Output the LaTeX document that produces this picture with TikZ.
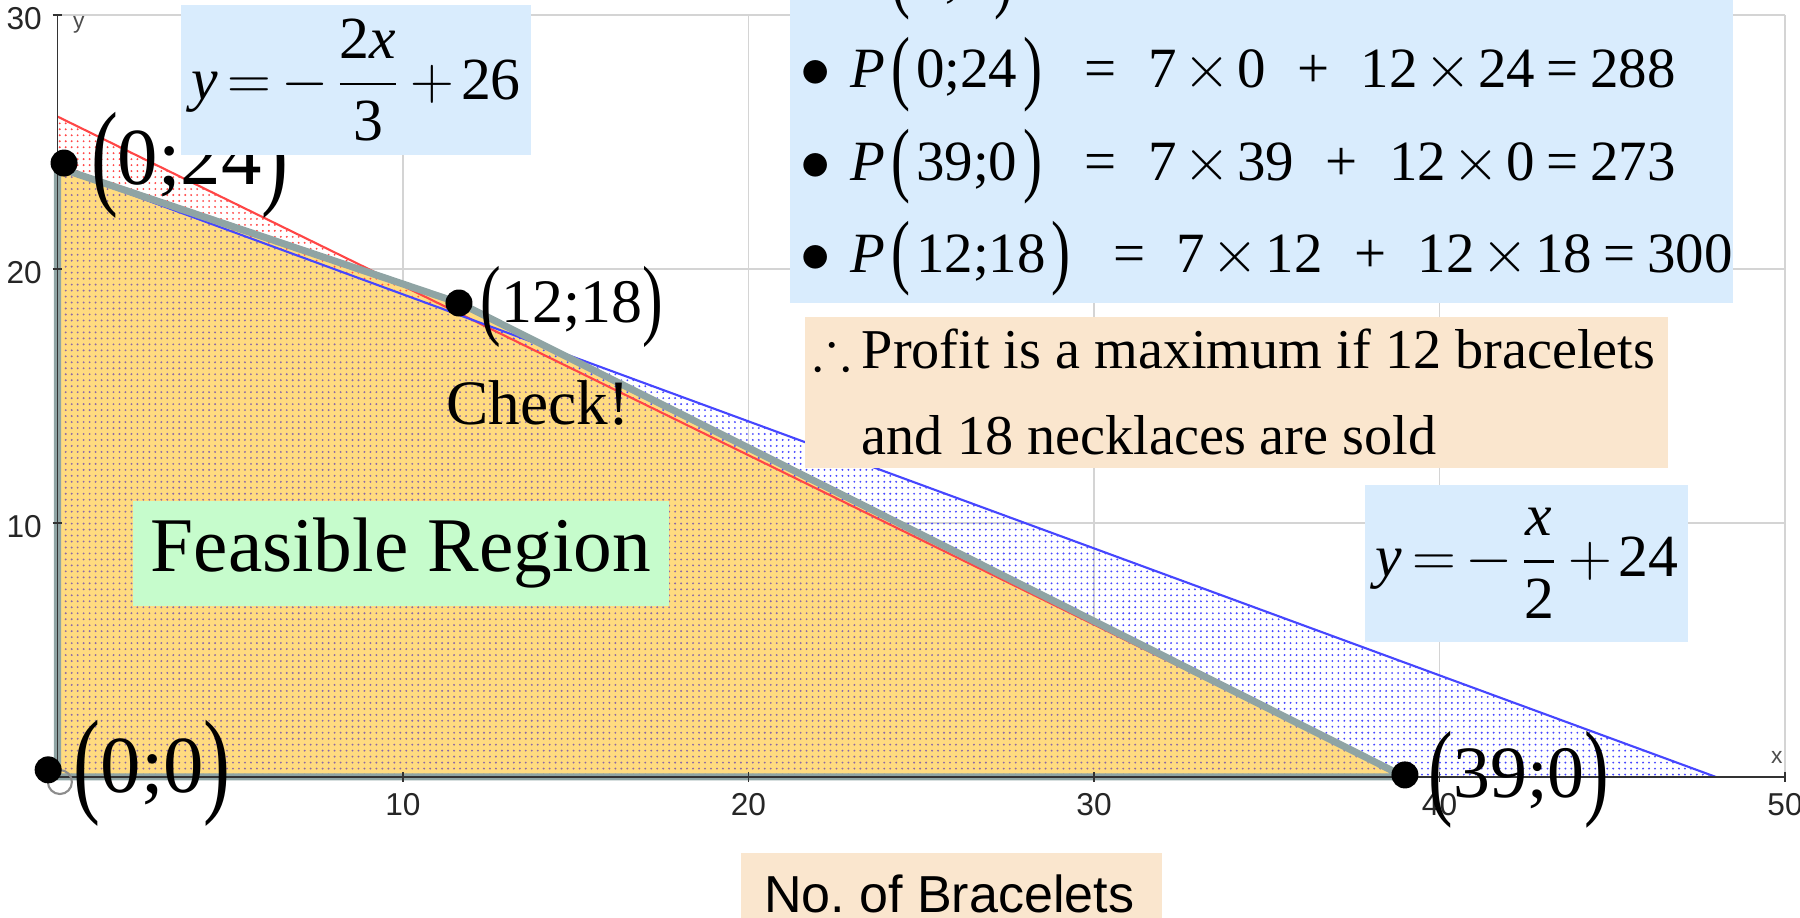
\documentclass[tikz,border=0pt]{standalone}
\usepackage{fontspec}
\setmainfont{Liberation Serif}
\setsansfont{Liberation Sans}
\usepackage{amsmath}
\usepackage{amssymb}
\usepackage{graphicx}
\usepackage{xcolor}
\usetikzlibrary{patterns.meta}

\definecolor{gridgray}{RGB}{212,212,212}
\definecolor{feasy}{RGB}{255,219,128}
\definecolor{edgegray}{RGB}{143,164,164}
\definecolor{redline}{RGB}{255,70,70}
\definecolor{blueline}{RGB}{70,70,255}
\definecolor{bothdot}{RGB}{140,105,165}
\definecolor{boxblue}{RGB}{217,236,253}
\definecolor{boxgreen}{RGB}{198,252,204}
\definecolor{boxpeach}{RGB}{250,230,206}

\newcommand\lpar{\raisebox{-0.11em}{\scalebox{1}[1.45]{(}}}
\newcommand\rpar{\raisebox{-0.11em}{\scalebox{1}[1.45]{)}}}
\newcommand\tms{\hspace{0.12em}$\times$\hspace{0.12em}}
\newcommand\eqs{\hspace{0.2em}=\hspace{0.2em}}
\newcommand\pline[3]{$\bullet$\hspace{0.35em}\textit{P}\hspace{0.1em}\lpar\hspace{0.1em}#1\hspace{0.1em}\rpar\hspace{0.75em}=\hspace{0.55em}#2\hspace{0.55em}+\hspace{0.55em}#3}
\newcommand\tteq{\mkern3mu{=}\mkern3mu{-}\mkern2mu}
\newcommand\ttplus{\mkern3mu{+}\mkern2mu}

\begin{document}
\frenchspacing
\begin{tikzpicture}[x=0.3455cm,y=0.254cm,
  ptdot/.style={circle,fill=black,inner sep=0pt,minimum size=0.27cm},
  bigtxt/.style={inner sep=0pt,anchor=base west},
  ticklbl/.style={font=\sffamily\fontsize{9}{10}\selectfont,text=black!85,inner sep=0pt},
  axlbl/.style={font=\sffamily\fontsize{6.5}{7}\selectfont,text=black!70,inner sep=0pt},
  eqbox/.style={fill=boxblue,inner sep=0pt,font=\fontsize{17}{20}\selectfont},
  dotfill/.style={pattern={Dots[distance=1.7pt,radius=0.3pt]},pattern color=#1}]
\useasboundingbox (-1.664,-5.551) rectangle (50.434,30.59);
% grid
\foreach \x in {10,20,...,50} \draw[gridgray,line width=0.5pt] (\x,0) -- (\x,30);
\foreach \y in {10,20,30} \draw[gridgray,line width=0.5pt] (0,\y) -- (50,\y);
% regions
\coordinate (O) at (0,0);
\coordinate (A) at (0,24);
\coordinate (B) at (11.65,18.65);
\coordinate (C) at (39,0);
\coordinate (R) at (0,26);
\coordinate (Q) at (48,0);
\coordinate (M) at (12,18);
\fill[feasy] (O) -- (A) -- (B) -- (C) -- cycle;
\fill[dotfill=bothdot] (O) -- (A) -- (M) -- (C) -- cycle;
\fill[dotfill=redline] (A) -- (R) -- (M) -- cycle;
\fill[dotfill=blueline] (M) -- (Q) -- (C) -- cycle;
\draw[redline,line width=0.6pt] (R) -- (C);
\draw[blueline,line width=0.6pt] (A) -- (Q);
\draw[edgegray,line width=2pt,line join=round] (O) -- (A) -- (B) -- (C) -- cycle;
% axes
\draw[black!80,line width=0.5pt] (0,0) -- (50,0);
\draw[black!80,line width=0.5pt] (0,0) -- (0,30);
\foreach \x in {10,20,...,50} {
  \draw[black!80,line width=0.5pt] (\x,0) ++(0,-1.4pt) -- ++(0,2.8pt);
  \node[ticklbl] (xt\x) at ([yshift=-0.28cm]\x,0) {\x};
}
\foreach \y in {10,20,30} {
  \draw[black!80,line width=0.5pt] (0,\y) ++(-1.4pt,0) -- ++(2.8pt,0);
  \node[ticklbl,anchor=east] (yt\y) at ([xshift=-0.15cm,yshift=-0.04cm]0,\y) {\y};
}
\node[axlbl] (ylab) at (0.62,29.6) {y};
\node[axlbl] (xlab) at (49.76,0.75) {x};
\draw[black!45,line width=0.6pt] (0.07,-0.2) circle[radius=0.12cm];
% corner points
\node[ptdot] (d24) at (0.19,24.17) {};
\node[ptdot] (d1218) at (11.62,18.66) {};
\node[ptdot] (d00) at (-0.27,0.28) {};
\node[ptdot] (d390) at (39.0,0.08) {};
\node[bigtxt,font=\fontsize{23}{27}\selectfont] (l24) at (0.95,23.31) {\lpar 0;24\rpar};
\node[bigtxt,font=\fontsize{17.6}{21}\selectfont] (l1218) at (12.23,17.91) {\lpar 12;18\rpar};
\node[bigtxt,font=\fontsize{23}{27}\selectfont] (l00) at (0.45,-0.63) {\lpar 0;0\rpar};
\node[bigtxt,font=\fontsize{21}{25}\selectfont] (l390) at (39.67,-0.79) {\lpar 39;0\rpar};
\node[bigtxt,font=\fontsize{18}{22}\selectfont] (check) at (11.24,13.86) {Check!};
% boxes
\node[fill=boxgreen,minimum width=5.36cm,minimum height=1.05cm,inner sep=0pt,font=\fontsize{22}{26}\selectfont] (feas) at (9.94,8.80) {Feasible Region};
\node[eqbox,minimum width=3.5cm,minimum height=1.5cm] (eqred) at (8.64,27.44) {$\textit{y}\tteq\dfrac{\text{2}\textit{x}}{\text{3}}\ttplus\text{26}$};
\node[eqbox,minimum width=3.23cm,minimum height=1.57cm] (eqblue) at (42.53,8.41) {$\textit{y}\tteq\dfrac{\textit{x}}{\text{2}}\ttplus\text{24}$};
\fill[boxblue] (21.20,18.66) rectangle (48.49,30.59);
\begin{scope}
\clip (21.20,18.66) rectangle (48.49,30.59);
\node[bigtxt,font=\fontsize{16.2}{19}\selectfont] (p00) at (21.49,30.75) {\pline{0;0}{7\tms 0}{12\tms 0\eqs 0}};
\end{scope}
\node[bigtxt,font=\fontsize{16.2}{19}\selectfont] (p024) at (21.49,27.13) {\pline{0;24}{7\tms 0}{12\tms 24\eqs 288}};
\node[bigtxt,font=\fontsize{16.2}{19}\selectfont] (p390) at (21.49,23.50) {\pline{39;0}{7\tms 39}{12\tms 0\eqs 273}};
\node[bigtxt,font=\fontsize{16.2}{19}\selectfont] (p1218) at (21.49,19.88) {\pline{12;18}{7\tms 12}{12\tms 18\eqs 300}};
\fill[boxpeach] (21.64,12.17) rectangle (46.61,18.11);
\node[bigtxt,font=\fontsize{16}{19}\selectfont] (prA) at (21.85,16.10) {$\therefore$};
\node[bigtxt,font=\fontsize{16}{19}\selectfont] (prB) at (23.26,16.10) {Profit is a maximum if 12 bracelets};
\node[bigtxt,font=\fontsize{16}{19}\selectfont] (prC) at (23.26,12.68) {and 18 necklaces are sold};
\fill[boxpeach] (19.78,-5.551) rectangle (31.97,-2.99);
\node[bigtxt,font=\sffamily\fontsize{14.8}{18}\selectfont] (xaxis) at (20.43,-5.35) {No. of Bracelets};
\end{tikzpicture}
\end{document}
